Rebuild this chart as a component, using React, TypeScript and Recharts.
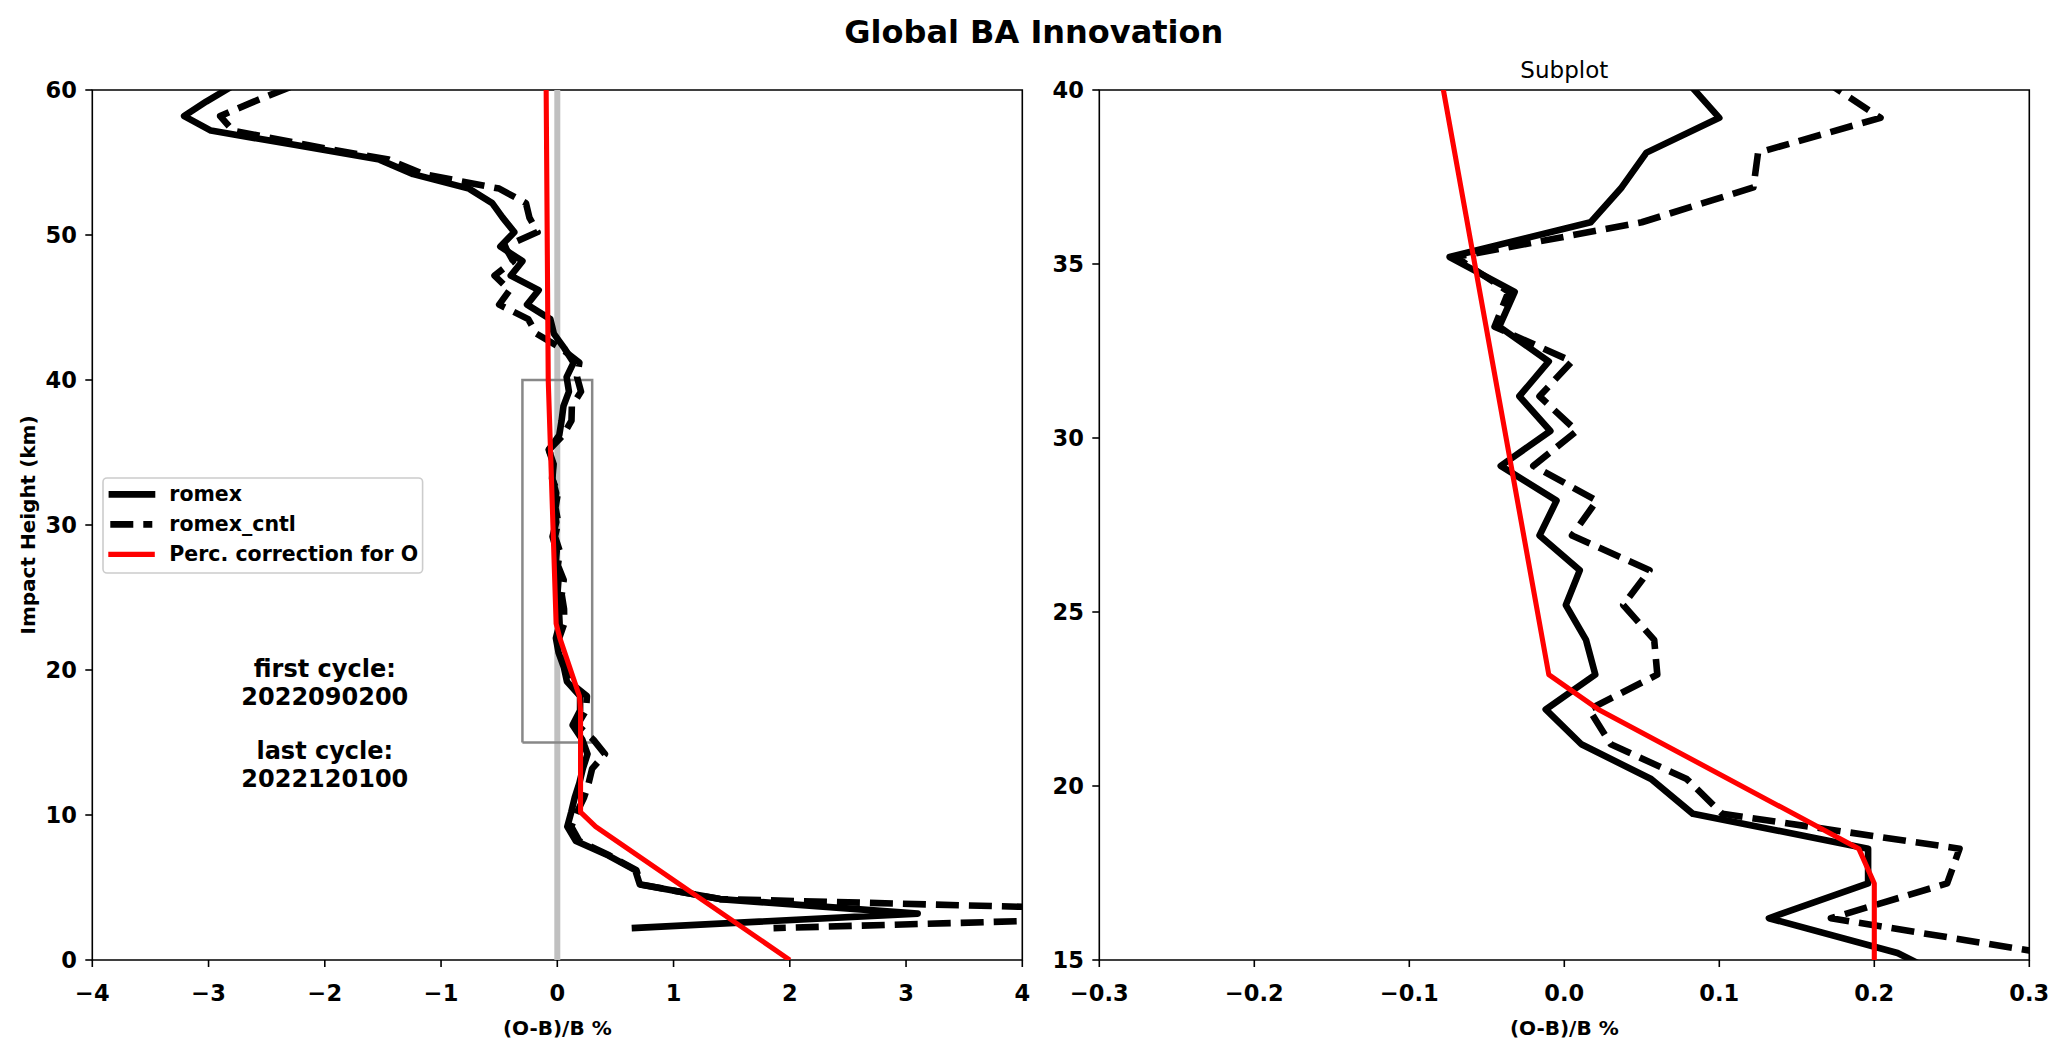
import React from 'react';
import { ScatterChart, Scatter, XAxis, YAxis, ReferenceArea, ReferenceDot } from 'recharts';

// impact heights (km) of the profile levels
const heights = [
  60.2, 59.2, 58.2, 57.2, 56.2, 55.2, 54.2, 53.2, 52.2, 51.2,
  50.2, 49.2, 48.2, 47.2, 46.2, 45.2, 44.2, 43.2, 42.2, 41.2,
  40.2, 39.2, 38.2, 37.2, 36.2, 35.2, 34.2, 33.2, 32.2, 31.2,
  30.2, 29.2, 28.2, 27.2, 26.2, 25.2, 24.2, 23.2, 22.2, 21.2,
  20.2, 19.2, 18.2, 17.2, 16.2, 15.2, 14.2, 13.2, 12.2, 11.2,
  10.2, 9.2, 8.2, 7.2, 6.2, 5.2, 4.2, 3.2, 2.2,
];

// (O-B)/B % for romex
const romex = [
  -2.81, -3.02, -3.21, -2.98, -2.25, -1.53, -1.24, -0.76, -0.56, -0.47,
  -0.37, -0.49, -0.3, -0.4, -0.16, -0.26, -0.06, -0.03, 0.06, 0.14,
  0.08, 0.1, 0.053, 0.037, 0.017, -0.074, -0.032, -0.042, -0.01, -0.029,
  -0.009, -0.041, -0.005, -0.016, 0.01, 0.001, 0.014, 0.02, -0.012, 0.011,
  0.056, 0.083, 0.196, 0.196, 0.132, 0.215, 0.26, 0.22, 0.19, 0.15,
  0.12, 0.086, 0.16, 0.44, 0.67, 0.71, 1.4, 3.1, 0.64,
];

// (O-B)/B % for romex_cntl
const romexCntl = [
  -2.3, -2.61, -2.9, -2.79, -2.15, -1.45, -1.15, -0.5, -0.27, -0.24,
  -0.17, -0.45, -0.38, -0.54, -0.41, -0.5, -0.25, -0.18, 0.03, 0.19,
  0.17, 0.204, 0.125, 0.122, 0.05, -0.07, -0.036, -0.045, 0.005, -0.016,
  0.008, -0.02, 0.021, 0.005, 0.055, 0.038, 0.058, 0.06, 0.016, 0.03,
  0.079, 0.102, 0.255, 0.247, 0.172, 0.31, 0.41, 0.3, 0.27, 0.23,
  0.17, 0.12, 0.19, 0.45, 0.68, 0.72, 1.4, 6.3, 1.86,
];

// percentage correction for O
const corrHeights = [60.2, 40, 23.2, 22.2, 18.2, 17.2, 10.2, 9.2, 0];
const correction = [-0.096, -0.078, -0.01, 0.022, 0.19, 0.2, 0.2, 0.33, 2.0];

// zero reference line and subplot region box
const zeroX = [0, 0];
const zeroY = [0, 60];
const boxX = [-0.3, 0.3, 0.3, -0.3, -0.3];
const boxY = [15, 15, 40, 40, 15];

const mainXTicks = [-4, -3, -2, -1, 0, 1, 2, 3, 4];
const mainYTicks = [0, 10, 20, 30, 40, 50, 60];
const subXTicks = [-0.3, -0.2, -0.1, 0, 0.1, 0.2, 0.3];
const subYTicks = [15, 20, 25, 30, 35, 40];

const seriesNames = ['romex', 'romex_cntl', 'Perc. correction for O'];
const cycleLines = ['first cycle:', '2022090200', '', 'last cycle:', '2022120100'];
const cyclePos = { x: -2, y: 16 };

const FONT = 'DejaVu Sans';
const BLACK_W = 6.6;
const RED_W = 5.1;
const DASH = '23 10';

const pts = (xs: number[], ys: number[]) => xs.map((x, i) => ({ x, y: ys[i] }));

const romexPts = pts(romex, heights);
const cntlPts = pts(romexCntl, heights);
const corrPts = pts(correction, corrHeights);
const zeroPts = pts(zeroX, zeroY);
const boxPts = pts(boxX, boxY);

const noShape = () => <g />;

const tickFont = { fontSize: 22.5, fontWeight: 700, fill: '#000', fontFamily: FONT };
const tickLine = { stroke: '#000', strokeWidth: 1.6 };

const fmtInt = (v: number) => (v < 0 ? '\u2212' + Math.abs(v) : String(v));
const fmtDec = (v: number) => {
  const s = Math.abs(v).toFixed(1);
  return v < -1e-9 ? '\u2212' + s : s;
};

const xLabel = {
  value: '(O-B)/B %',
  position: 'insideBottom' as const,
  offset: 8,
  fontSize: 20,
  fontWeight: 700,
  fill: '#000',
  fontFamily: FONT,
};

const YLabel = (props: any) => {
  const vb = props && props.viewBox ? props.viewBox : { x: 0, y: 90, width: 92.3, height: 870 };
  const cx = vb.x + 35;
  const cy = vb.y + vb.height / 2;
  return (
    <text
      x={cx}
      y={cy}
      transform={`rotate(-90, ${cx}, ${cy})`}
      textAnchor="middle"
      fontSize={20}
      fontWeight={700}
      fill="#000"
      fontFamily={FONT}
    >
      Impact Height (km)
    </text>
  );
};

const CycleText = (props: any) => {
  const vb = props && props.viewBox ? props.viewBox : { x: 0, y: 0, width: 0, height: 0 };
  const cx = vb.x + vb.width / 2;
  const cy = vb.y + vb.height / 2;
  return (
    <g>
      {cycleLines.map((t, i) =>
        t ? (
          <text
            key={i}
            x={cx}
            y={cy - 50.8 + i * 27.4}
            textAnchor="middle"
            fontSize={24}
            fontWeight={700}
            fill="#000"
            fontFamily={FONT}
          >
            {t}
          </text>
        ) : null
      )}
    </g>
  );
};

const MainChart = () => (
  <ScatterChart width={1040} height={1043} margin={{ top: 90, right: 17.7, bottom: 0, left: 0 }}>
    <XAxis
      type="number"
      dataKey="x"
      domain={[-4, 4]}
      ticks={mainXTicks}
      interval={0}
      allowDataOverflow
      height={83}
      tick={tickFont}
      tickFormatter={fmtInt}
      tickSize={7}
      tickMargin={18}
      tickLine={tickLine}
      axisLine={false}
      label={xLabel}
    />
    <YAxis
      type="number"
      dataKey="y"
      domain={[0, 60]}
      ticks={mainYTicks}
      interval={0}
      allowDataOverflow
      width={92.3}
      tick={tickFont}
      tickSize={7}
      tickMargin={8.4}
      tickLine={tickLine}
      axisLine={false}
      label={{ content: YLabel }}
    />
    <ReferenceArea x1={-4} x2={4} y1={0} y2={60} fill="none" stroke="#000" strokeWidth={1.6} ifOverflow="visible" />
    <Scatter data={zeroPts} fill="#c0c0c0" shape={noShape} isAnimationActive={false}
      line={{ stroke: '#c0c0c0', strokeWidth: 6 }} />
    <Scatter data={boxPts} fill="#888" shape={noShape} isAnimationActive={false}
      line={{ stroke: '#888888', strokeWidth: 2.5 }} />
    <Scatter name={seriesNames[0]} data={romexPts} fill="#000" shape={noShape} isAnimationActive={false}
      line={{ stroke: '#000', strokeWidth: BLACK_W, strokeLinejoin: 'round' }} />
    <Scatter name={seriesNames[1]} data={cntlPts} fill="#000" shape={noShape} isAnimationActive={false}
      line={{ stroke: '#000', strokeWidth: BLACK_W, strokeDasharray: DASH, strokeLinejoin: 'round' }} />
    <Scatter name={seriesNames[2]} data={corrPts} fill="#ff0000" shape={noShape} isAnimationActive={false}
      line={{ stroke: '#ff0000', strokeWidth: RED_W, strokeLinejoin: 'round' }} />
    <ReferenceDot x={cyclePos.x} y={cyclePos.y} r={2} fill="none" stroke="none" label={{ content: CycleText }} />
  </ScatterChart>
);

const SubChart = () => (
  <ScatterChart width={1027} height={1043} margin={{ top: 90, right: 37.7, bottom: 0, left: 0 }}>
    <XAxis
      type="number"
      dataKey="x"
      domain={[-0.3, 0.3]}
      ticks={subXTicks}
      interval={0}
      allowDataOverflow
      height={83}
      tick={tickFont}
      tickFormatter={fmtDec}
      tickSize={7}
      tickMargin={18}
      tickLine={tickLine}
      axisLine={false}
      label={xLabel}
    />
    <YAxis
      type="number"
      dataKey="y"
      domain={[15, 40]}
      ticks={subYTicks}
      interval={0}
      allowDataOverflow
      width={59.3}
      tick={tickFont}
      tickSize={7}
      tickMargin={8.4}
      tickLine={tickLine}
      axisLine={false}
    />
    <ReferenceArea
      x1={-0.3}
      x2={0.3}
      y1={15}
      y2={40}
      fill="none"
      stroke="#000"
      strokeWidth={1.6}
      ifOverflow="visible"
      label={{ value: 'Subplot', position: 'top', offset: 11.7, fontSize: 23, fill: '#000', fontFamily: FONT }}
    />
    <Scatter name={seriesNames[0]} data={romexPts} fill="#000" shape={noShape} isAnimationActive={false}
      line={{ stroke: '#000', strokeWidth: BLACK_W, strokeLinejoin: 'round' }} />
    <Scatter name={seriesNames[1]} data={cntlPts} fill="#000" shape={noShape} isAnimationActive={false}
      line={{ stroke: '#000', strokeWidth: BLACK_W, strokeDasharray: DASH, strokeLinejoin: 'round' }} />
    <Scatter name={seriesNames[2]} data={corrPts} fill="#ff0000" shape={noShape} isAnimationActive={false}
      line={{ stroke: '#ff0000', strokeWidth: RED_W, strokeLinejoin: 'round' }} />
  </ScatterChart>
);

const legendItems = [
  { name: seriesNames[0], color: '#000', width: BLACK_W, dash: undefined as string | undefined, x1: 108.3, x2: 155 },
  { name: seriesNames[1], color: '#000', width: BLACK_W, dash: DASH, x1: 110, x2: 152 },
  { name: seriesNames[2], color: '#ff0000', width: RED_W, dash: undefined as string | undefined, x1: 108, x2: 154.5 },
];

const LegendBox = () => {
  const left = 102.7;
  const top = 478.3;
  return (
    <svg
      width={330}
      height={100}
      style={{ position: 'absolute', left: left - 2, top: top - 2, pointerEvents: 'none' }}
    >
      <rect x={2} y={2} width={319.6} height={95} rx={4} ry={4} fill="#fff" fillOpacity={0.8} stroke="#cccccc" strokeWidth={1.6} />
      {legendItems.map((it, i) => {
        const base = 501.7 + i * 30 - top + 2;
        const ly = base - 7;
        return (
          <g key={it.name}>
            <line
              x1={it.x1 - left + 2}
              x2={it.x2 - left + 2}
              y1={ly}
              y2={ly}
              stroke={it.color}
              strokeWidth={it.width}
              strokeDasharray={it.dash}
            />
            <text x={169 - left + 2} y={base} fontSize={20.5} fontWeight={700} fill="#000" fontFamily={FONT}>
              {it.name}
            </text>
          </g>
        );
      })}
    </svg>
  );
};

export default function App() {
  return (
    <div
      style={{
        position: 'absolute',
        left: 0,
        top: 0,
        width: 2067,
        height: 1043,
        background: '#fff',
        fontFamily: FONT,
        overflow: 'hidden',
      }}
    >
      <div style={{ position: 'absolute', left: 0, top: 0 }}>
        <MainChart />
      </div>
      <div style={{ position: 'absolute', left: 1040, top: 0 }}>
        <SubChart />
      </div>
      <svg width={2067} height={70} style={{ position: 'absolute', left: 0, top: 0, pointerEvents: 'none' }}>
        <text x={1033.8} y={42.7} textAnchor="middle" fontSize={32} fontWeight={700} fill="#000" fontFamily={FONT}>
          Global BA Innovation
        </text>
      </svg>
      <LegendBox />
    </div>
  );
}
